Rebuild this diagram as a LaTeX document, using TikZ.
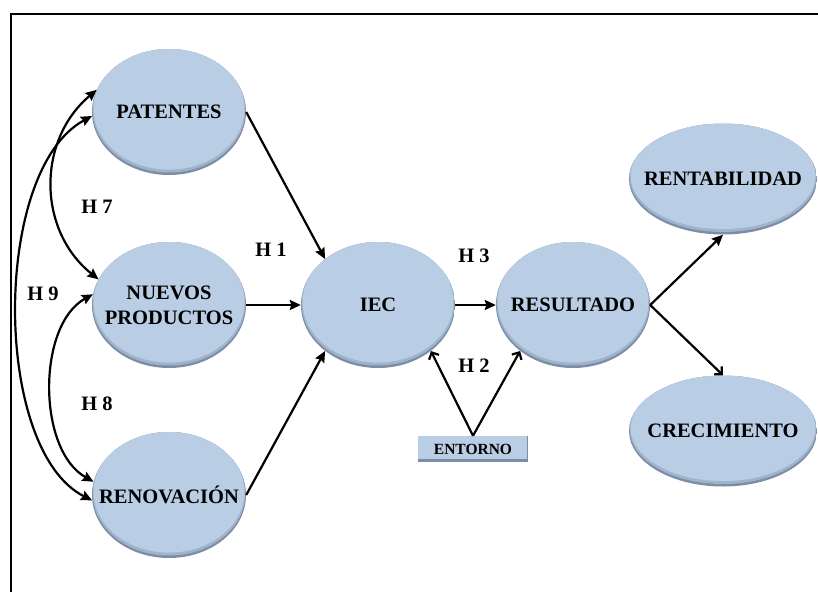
\documentclass[tikz,border=0pt]{standalone}
\usepackage{fontspec}
\setmainfont{Liberation Serif}
\usetikzlibrary{shapes.geometric,arrows.meta,calc}

\definecolor{nodeblue}{HTML}{B9CDE5}
\definecolor{rimmid}{HTML}{9FB3CC}
\definecolor{rimdark}{HTML}{7C8DA5}

\tikzset{
  % soft darker rim along the lower edge of the ellipses
  rimshade/.style={path picture={
    \coordinate (pc) at (path picture bounding box.center);
    \coordinate (pne) at (path picture bounding box.north east);
    \fill[rimdark] (path picture bounding box.south west) rectangle (pne);
    \fill[rimmid] let \p1=($(pne)-(pc)$) in ([yshift=1.6pt]pc) ellipse ({\x1-0.6pt} and {\y1-0.9pt});
    \fill[nodeblue] let \p1=($(pne)-(pc)$) in ([yshift=3.2pt]pc) ellipse ({\x1-1.6pt} and {\y1-2.2pt});
  }},
  ctext/.style={align=center, inner sep=0pt, font=\fontsize{20.5}{25}\selectfont\bfseries},
  concept/.style={ellipse, rimshade, minimum width=154pt, minimum height=126pt, inner sep=0pt},
  outcome/.style={concept, minimum width=188pt, minimum height=111pt},
  envbox/.style={rectangle, minimum width=110pt, minimum height=26pt, inner sep=0pt,
    font=\fontsize{15.5}{17}\selectfont\bfseries,
    path picture={
      \fill[rimdark] (path picture bounding box.south west) rectangle (path picture bounding box.north east);
      \fill[nodeblue] ([yshift=3pt]path picture bounding box.south west) rectangle ([xshift=-1.2pt]path picture bounding box.north east);
    }},
  hyp/.style={font=\fontsize{20.5}{22}\selectfont\bfseries, inner sep=0pt},
  link/.style={line width=2.2pt, -{Stealth[length=11pt,width=10pt,inset=1.5pt]}},
  openlink/.style={line width=2.2pt, -{Straight Barb[length=5.5pt,width=11pt]}},
  corr/.style={line width=2.2pt, {Stealth[length=11pt,width=10pt,inset=1.5pt]}-{Stealth[length=11pt,width=10pt,inset=1.5pt]}},
}

\begin{document}
\begin{tikzpicture}[x=1pt,y=1pt]
\useasboundingbox (0,0) rectangle (818,-592);

% frame
\draw[line width=2pt] (11,-592) -- (11,-14) -- (818,-14);

% constructs
\node[concept, label={[ctext]center:PATENTES}] (pat) at (169,-112) {};
\node[concept, label={[ctext]center:NUEVOS\\PRODUCTOS}] (nue) at (169,-305) {};
\node[concept, label={[ctext]center:RENOVACIÓN}] (ren) at (169,-495) {};
\node[concept, label={[ctext]center:IEC}] (iec) at (378,-305) {};
\node[concept, label={[ctext]center:RESULTADO}] (res) at (573,-305) {};
\node[outcome, label={[ctext]center:RENTABILIDAD}] (rent) at (723,-179) {};
\node[outcome, label={[ctext]center:CRECIMIENTO}] (crec) at (723,-431) {};
\node[envbox] (ent) at (473,-449) {ENTORNO};

% hypothesis labels
\node[hyp] (h7) at (97,-207) {H 7};
\node[hyp] (h8) at (97,-404) {H 8};
\node[hyp] (h9) at (43,-294) {H 9};
\node[hyp] (h1) at (271,-250) {H 1};
\node[hyp] (h3) at (474,-256) {H 3};
\node[hyp] (h2) at (474,-366) {H 2};

% paths
\draw[link] (pat.east) -- (iec.139);
\draw[link] (nue.east) -- (iec.west);
\draw[link] (ren.east) -- (iec.221);
\draw[link] (iec.east) -- (res.west);
\draw[openlink] (ent.north) -- (iec.319);
\draw[openlink] (ent.north) -- (res.221);
\draw[link] (res.east) -- (rent.south);
\draw[openlink] (res.east) -- (crec.north);

% correlations between the innovation constructs
\draw[corr] (pat.163) .. controls (37,-140) and (37,-230) .. (nue.160);
\draw[corr] (nue.172) .. controls (37,-325) and (37,-450) .. (ren.170);
\draw[corr] (pat.183) .. controls (-8,-170) and (-8,-450) .. (ren.184);
\end{tikzpicture}
\end{document}
